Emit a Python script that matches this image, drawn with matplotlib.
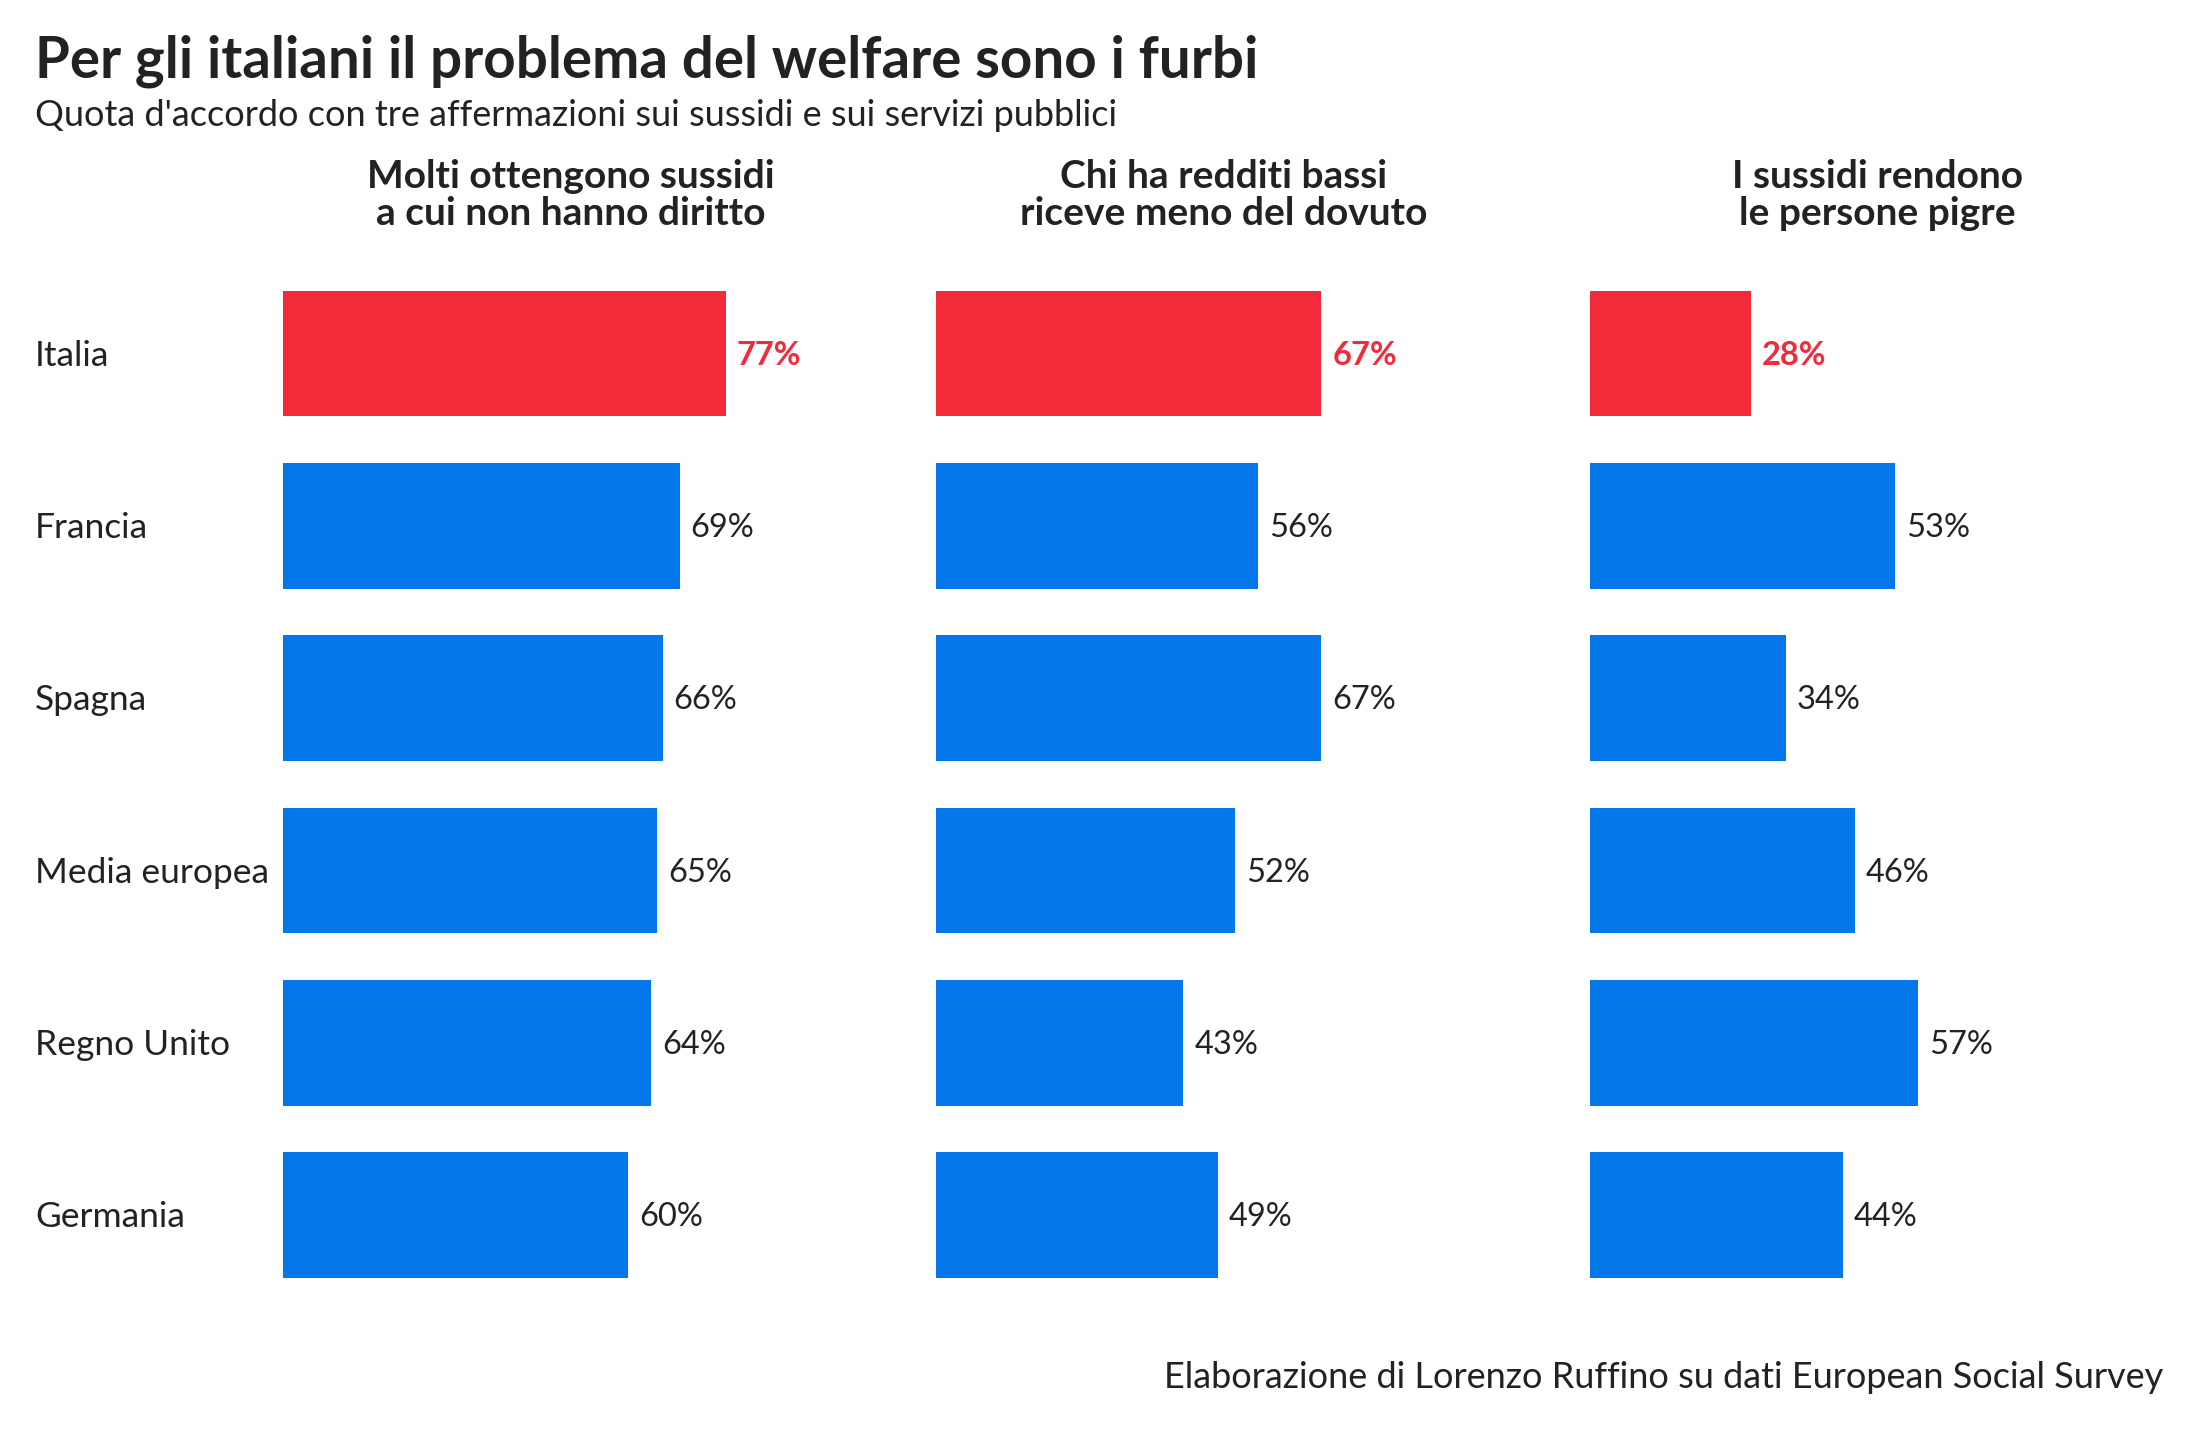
import matplotlib
matplotlib.use("Agg")
import matplotlib.pyplot as plt

plt.rcParams['font.family'] = ['Lato', 'DejaVu Sans']

countries = ["Italia", "Francia", "Spagna", "Media europea", "Regno Unito", "Germania"]
panel_titles = ["Molti ottengono sussidi\na cui non hanno diritto",
                "Chi ha redditi bassi\nriceve meno del dovuto",
                "I sussidi rendono\nle persone pigre"]
v_sussidi_indebiti = [77, 69, 66, 65, 64, 60]
v_redditi_bassi = [67, 56, 67, 52, 43, 49]
v_pigri = [28, 53, 34, 46, 57, 44]
series = [v_sussidi_indebiti, v_redditi_bassi, v_pigri]

title = "Per gli italiani il problema del welfare sono i furbi"
subtitle = "Quota d'accordo con tre affermazioni sui sussidi e sui servizi pubblici"
caption = "Elaborazione di Lorenzo Ruffino su dati European Social Survey"

RED = "#F22A3A"
BLUE = "#0478EA"
TXT = "#222222"

W, H = 2200, 1430
fig = plt.figure(figsize=(W / 100, H / 100), dpi=100)
fig.patch.set_facecolor("white")

def fx(px):
    return px / W

def fy(py):
    return 1 - py / H

pitch = 172.3
y0 = 353.6
ax_top = y0 - 0.6 * pitch
ax_h = 6.2 * pitch
panel_left = [283, 936, 1590]
panel_w = 575

for i, (vals, ptitle) in enumerate(zip(series, panel_titles)):
    ax = fig.add_axes([fx(panel_left[i]), fy(ax_top + ax_h), panel_w / W, ax_h / H])
    ypos = list(range(len(countries)))
    colors = [RED if c == "Italia" else BLUE for c in countries]
    ax.barh(ypos, vals, height=0.73, color=colors)
    ax.set_xlim(0, 100)
    ax.set_ylim(5.6, -0.6)
    ax.axis("off")
    for yy, v, c in zip(ypos, vals, countries):
        is_it = c == "Italia"
        ax.annotate(f"{v}%", xy=(v, yy), xytext=(11, -2), textcoords="offset pixels",
                    ha="left", va="center", fontsize=23.5,
                    color=RED if is_it else TXT,
                    fontweight="bold" if is_it else "normal")
    fig.text(fx(panel_left[i] + panel_w / 2), fy(195), ptitle, ha="center", va="center",
             fontsize=28, fontweight="bold", color=TXT, linespacing=1.05)

for k, c in enumerate(countries):
    fig.text(fx(35), fy(y0 + k * pitch + 2), c, ha="left", va="center", fontsize=25.5, color=TXT)

fig.text(fx(35), fy(77), title, ha="left", va="baseline", fontsize=40.7,
         fontweight="bold", color=TXT)
fig.text(fx(35), fy(126), subtitle, ha="left", va="baseline", fontsize=26, color=TXT)
fig.text(fx(2163), fy(1388), caption, ha="right", va="baseline", fontsize=26, color=TXT)

fig.savefig("out.png", dpi=100, facecolor="white")
